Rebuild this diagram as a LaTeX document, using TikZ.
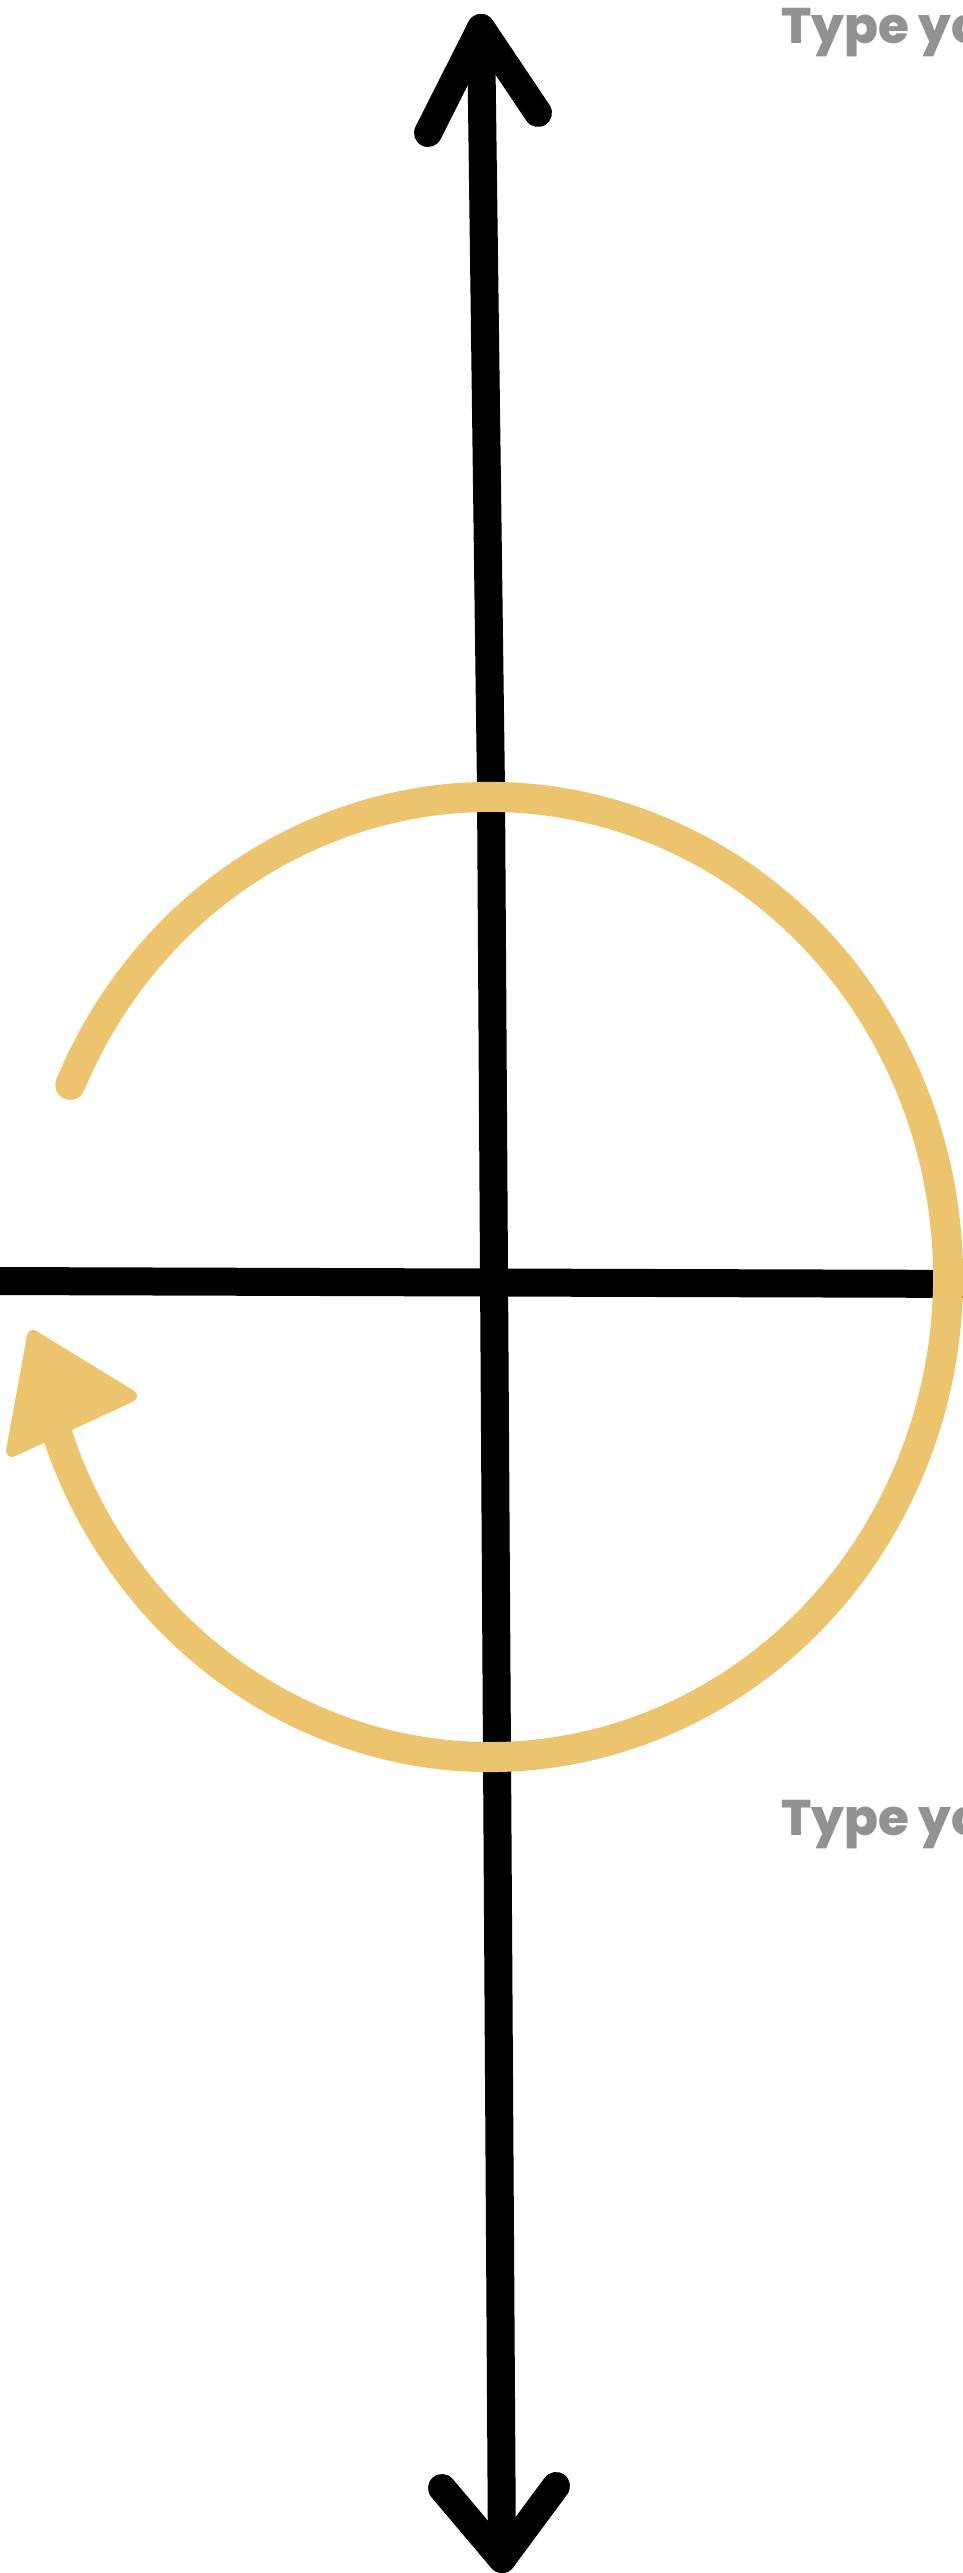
\documentclass[tikz,border=0pt]{standalone}
\usepackage{fontspec}
\newfontfamily\popfont{Poppins}[UprightFont={* ExtraBold}]
\definecolor{gold}{RGB}{237,196,110}
\definecolor{txtgray}{RGB}{146,146,146}
\begin{document}
\begin{tikzpicture}[x=1pt,y=1pt,
  axisline/.style={line width=28pt, draw=black},
  axishead/.style={line width=28pt, draw=black, line cap=round, line join=round},
  goldline/.style={line width=30pt, draw=gold, line cap=round},
  goldhead/.style={fill=gold, draw=gold, line width=12pt, line join=round},
  typelabel/.style={font=\popfont\fontsize{50}{60}\selectfont, text=txtgray, anchor=base west, inner sep=0pt}]
\fill[white] (0,0) rectangle (963,2573);
\useasboundingbox (0,0) rectangle (963,2573);
\clip (0,0) rectangle (963,2573);
% axis points
\coordinate (vtop) at (481,2545);
\coordinate (vmid) at (491,1783);
\coordinate (vbot) at (502,14);
\coordinate (tl) at (428,2440);
\coordinate (tr) at (538,2460);
\coordinate (bl) at (442,85);
\coordinate (br) at (556,87);
\coordinate (hl) at (-20,1292);
\coordinate (hr) at (985,1289);
% axes
\draw[axishead] (vtop) -- (vmid) -- (vbot);
\draw[axishead] (tl) -- (vtop) -- (tr);
\draw[axishead] (bl) -- (vbot) -- (br);
\draw[axisline] (hl) -- (hr);
% rotation arrow
\coordinate (cc) at (490,1296);
\draw[goldline] (cc) ++(156.4:458pt and 480pt) arc[start angle=156.4, end angle=-161, x radius=458pt, y radius=480pt];
\coordinate (ahtip) at (33,1237);
\coordinate (ahright) at (131,1177);
\coordinate (ahleft) at (12,1122);
\filldraw[goldhead] (ahtip) -- (ahright) -- (ahleft) -- cycle;
% labels
\node[typelabel] (ttop) at (781,2529) {Type yo};
\node[typelabel] (tbot) at (781,737) {Type yo};
\end{tikzpicture}
\end{document}
